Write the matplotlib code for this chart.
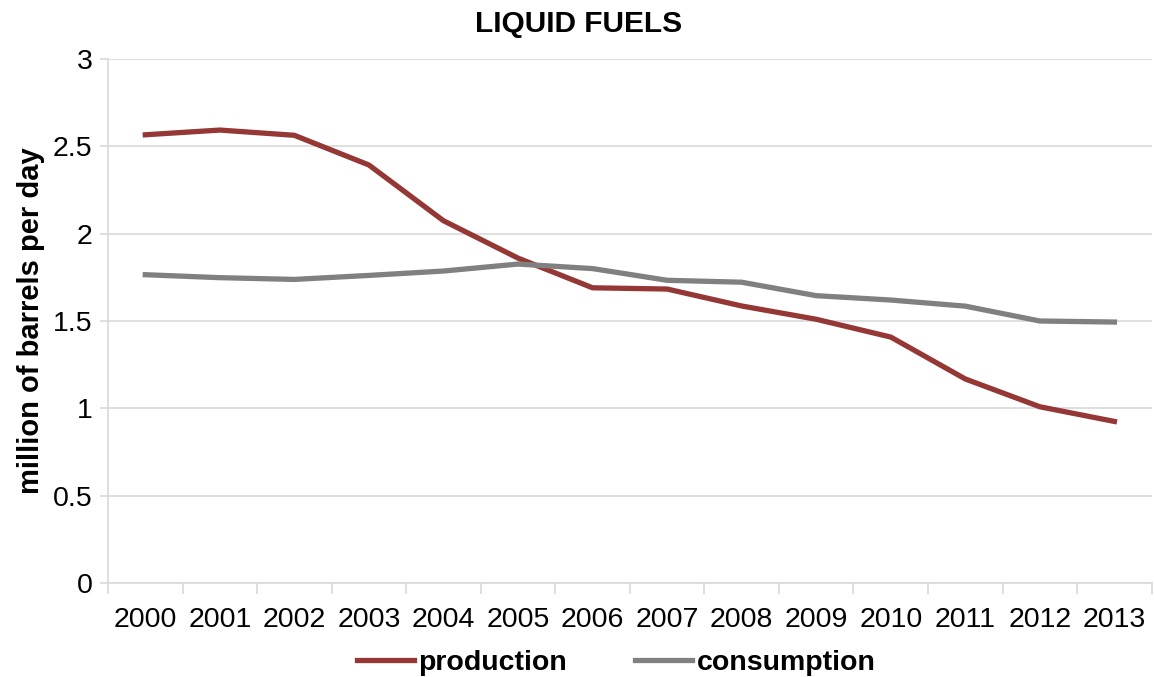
import numpy as np
import matplotlib.pyplot as plt

years = ['2000', '2001', '2002', '2003', '2004', '2005', '2006',
         '2007', '2008', '2009', '2010', '2011', '2012', '2013']
production = [2.566, 2.593, 2.563, 2.393, 2.074, 1.86, 1.69,
              1.683, 1.586, 1.51, 1.408, 1.168, 1.009, 0.925]
consumption = [1.765, 1.748, 1.738, 1.761, 1.786, 1.826, 1.80,
               1.733, 1.722, 1.645, 1.62, 1.585, 1.50, 1.494]

plt.rcParams['font.family'] = ['Liberation Sans', 'DejaVu Sans']

fig = plt.figure(figsize=(11.54, 6.77), dpi=100)
ax = fig.add_axes([0.0936, 0.1388, 0.9044, 0.7741])

x = np.arange(len(years))
ax.plot(x, production, color='#953735', lw=3.8, label='production',
        solid_joinstyle='round')
ax.plot(x, consumption, color='#808080', lw=3.8, label='consumption',
        solid_joinstyle='round')

ax.set_xlim(-0.5, len(years) - 0.5)
ax.set_ylim(0, 3)
ax.set_yticks([0, 0.5, 1, 1.5, 2, 2.5, 3])
ax.set_yticklabels(['0', '0.5', '1', '1.5', '2', '2.5', '3'])
ax.set_xticks(x)
ax.set_xticklabels(years)
ax.set_xticks(np.arange(-0.5, len(years)), minor=True)
ax.tick_params(axis='x', which='major', length=0, pad=17, labelsize=20.5)
ax.tick_params(axis='x', which='minor', length=8, width=1.2, color='#D9D9D9')
ax.tick_params(axis='y', length=6, width=1.2, color='#D9D9D9', pad=5,
               labelsize=20.5)

ax.grid(axis='y', color='#D9D9D9', lw=1.2)
ax.set_axisbelow(True)
for s in ['top', 'right']:
    ax.spines[s].set_visible(False)
for s in ['left', 'bottom']:
    ax.spines[s].set_color('#D9D9D9')
    ax.spines[s].set_linewidth(1.2)

ax.set_ylabel('million of barrels per day', fontsize=21, fontweight='bold',
              labelpad=6)
fig.text(0.501, 0.965, 'LIQUID FUELS', ha='center', va='center',
         fontsize=21.5, fontweight='bold')

fig.legend(loc='center', bbox_to_anchor=(0.534, 0.021), ncol=2, frameon=False,
           prop={'weight': 'bold', 'size': 20.5}, handlelength=2.0,
           handletextpad=0.15, columnspacing=2.4)

fig.savefig('out.png', dpi=100)
